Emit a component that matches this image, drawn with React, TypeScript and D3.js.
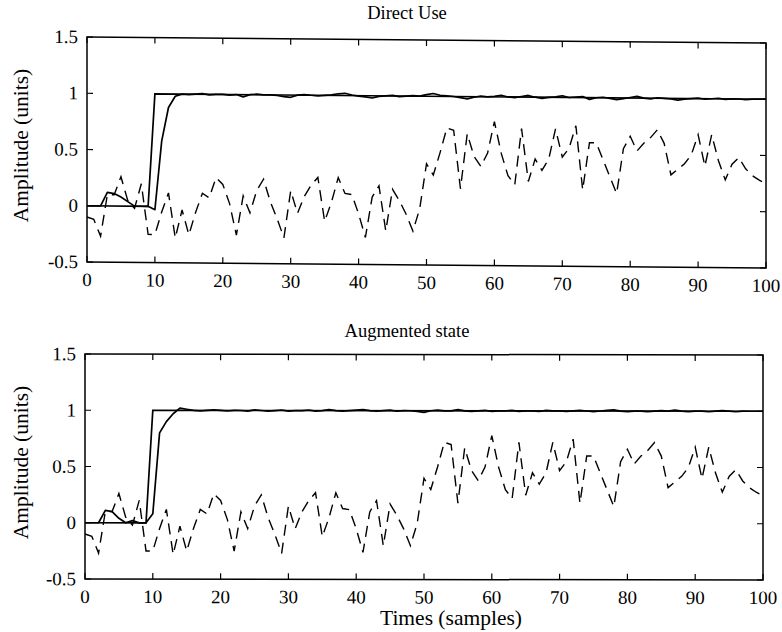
import React from "react";
import * as d3 from "d3";

// ---- data ----
const noise = [
  -0.1, -0.12, -0.27, 0.1, 0.1, 0.26, 0.05, -0.02, 0.2, -0.25,
  -0.25, -0.05, 0.12, -0.28, -0.03, -0.25, -0.05, 0.12, 0.08, 0.26,
  0.2, 0.03, -0.25, 0.1, -0.05, 0.15, 0.25, 0.05, -0.1, -0.27,
  0.15, -0.05, 0.1, 0.2, 0.27, -0.12, 0.05, 0.27, 0.13, 0.12,
  -0.05, -0.26, 0.1, 0.2, -0.2, 0.17, 0.07, -0.05, -0.2, 0.0,
  0.4, 0.3, 0.5, 0.72, 0.7, 0.18, 0.67, 0.47, 0.38, 0.5,
  0.78, 0.5, 0.3, 0.22, 0.72, 0.25, 0.45, 0.35, 0.45, 0.72,
  0.47, 0.55, 0.75, 0.18, 0.6, 0.6, 0.45, 0.3, 0.15, 0.55,
  0.66, 0.53, 0.6, 0.65, 0.72, 0.6, 0.32, 0.37, 0.42, 0.5,
  0.68, 0.4, 0.68, 0.45, 0.28, 0.42, 0.48, 0.38, 0.32, 0.28,
  0.25,
];

const refTimes = [0, 9, 10, 100];
const refValues = [0, 0, 1, 1];

const outputDirect = [
  0, 0, 0, 0.12, 0.11, 0.08, 0.04, 0.0, 0.0, 0.0,
  -0.03, 0.58, 0.88, 0.98, 1.0, 0.995, 1.0, 1.005, 0.995, 1.0,
  1.0, 0.995, 1.0, 0.98, 1.0, 1.005, 1.0, 1.0, 0.995, 0.985,
  0.98, 1.0, 1.005, 1.0, 0.995, 1.0, 1.005, 1.015, 1.02, 1.005,
  0.995, 0.99, 0.98, 0.995, 1.0, 1.005, 0.995, 1.0, 1.005, 1.0,
  1.015, 1.025, 1.01, 1.005, 1.0, 0.99, 0.98, 0.995, 1.005, 1.0,
  1.005, 1.015, 1.0, 0.995, 1.005, 1.015, 1.0, 0.99, 1.0, 1.005,
  1.015, 1.0, 1.005, 1.01, 0.985, 1.0, 1.005, 0.995, 0.985, 0.995,
  1.005, 1.015, 1.0, 0.995, 1.005, 1.0, 0.995, 0.985, 0.995, 1.0,
  1.005, 0.995, 1.0, 1.005, 0.995, 1.0, 1.0, 0.995, 1.0, 1.0,
  1.0,
];

const outputAugmented = [
  0, 0, 0, 0.11, 0.1, 0.04, 0.0, 0.02, 0.0, 0.0,
  0.08, 0.8, 0.9, 0.97, 1.02, 1.01, 1.0, 0.995, 1.0, 1.005,
  1.0, 0.995, 1.0, 1.0, 0.995, 1.005, 1.0, 0.995, 1.0, 1.005,
  0.995, 1.0, 1.0, 1.005, 0.995, 1.0, 1.01, 1.0, 0.995, 1.0,
  1.005, 1.01, 1.0, 0.995, 1.0, 1.005, 0.995, 1.0, 1.0, 0.995,
  0.985, 1.0, 1.005, 1.0, 1.0, 1.01, 1.0, 0.995, 1.0, 1.005,
  0.995, 1.0, 1.0, 1.005, 0.995, 1.0, 1.0, 0.995, 1.005, 1.0,
  1.0, 0.995, 1.0, 1.005, 1.0, 0.995, 1.0, 1.005, 1.01, 1.0,
  0.995, 1.0, 1.0, 0.995, 1.0, 1.005, 1.0, 1.01, 1.0, 0.995,
  1.0, 1.0, 0.995, 1.0, 1.005, 1.0, 0.995, 1.0, 1.0, 1.0,
  1.0,
];

const xTicks = [0, 10, 20, 30, 40, 50, 60, 70, 80, 90, 100];
const yTicks = [-0.5, 0, 0.5, 1, 1.5];
const yTickLabels = ["-0.5", "0", "0.5", "1", "1.5"];

const FONT = "'Liberation Serif', 'Times New Roman', serif";

type PanelProps = {
  title: string;
  output: number[];
  x0: number;
  x1: number;
  yTop: number;
  yBot: number;
  drop: number;
  titleY: number;
  showXLabel: boolean;
};

function Panel({ title, output, x0, x1, yTop, yBot, drop, titleY, showXLabel }: PanelProps) {
  const x = d3.scaleLinear().domain([0, 100]).range([x0, x1]);
  const y = d3.scaleLinear().domain([-0.5, 1.5]).range([yBot, yTop]);
  const k = drop / (x1 - x0);
  const line = d3
    .line<[number, number]>()
    .x((d) => x(d[0]))
    .y((d) => y(d[1]));
  const noisePts = noise.map((v, i) => [i, v] as [number, number]);
  const refPts = refTimes.map((t, i) => [t, refValues[i]] as [number, number]);
  const outPts = output.map((v, i) => [i, v] as [number, number]);
  const tl = 6;
  const midY = (yTop + yBot) / 2;
  return (
    <g>
      <text x={407} y={titleY} textAnchor="middle" fontSize={18.5} fontFamily={FONT}>
        {title}
      </text>
      <g transform={`matrix(1, ${k}, 0, 1, 0, ${-k * x0})`}>
        <path d={line(noisePts) || ""} fill="none" stroke="#000" strokeWidth={1.4} strokeDasharray="11,7" />
        <path d={line(refPts) || ""} fill="none" stroke="#000" strokeWidth={1.7} />
        <path d={line(outPts) || ""} fill="none" stroke="#000" strokeWidth={1.7} strokeLinejoin="round" />
        <rect x={x0} y={yTop} width={x1 - x0} height={yBot - yTop} fill="none" stroke="#000" strokeWidth={1.5} />
        {xTicks.map((t) => (
          <g key={"xt" + t}>
            <line x1={x(t)} x2={x(t)} y1={yBot} y2={yBot - tl} stroke="#000" strokeWidth={1.2} />
            <line x1={x(t)} x2={x(t)} y1={yTop} y2={yTop + tl} stroke="#000" strokeWidth={1.2} />
            <text x={x(t)} y={yBot + 24} textAnchor="middle" fontSize={19} fontFamily={FONT}>
              {String(t)}
            </text>
          </g>
        ))}
        {yTicks.map((v, i) => (
          <g key={"yt" + v}>
            <line x1={x0} x2={x0 + tl} y1={y(v)} y2={y(v)} stroke="#000" strokeWidth={1.2} />
            <line x1={x1} x2={x1 - tl} y1={y(v)} y2={y(v)} stroke="#000" strokeWidth={1.2} />
            <text x={x0 - 9} y={y(v)} dy="0.33em" textAnchor="end" fontSize={19} fontFamily={FONT}>
              {yTickLabels[i]}
            </text>
          </g>
        ))}
      </g>
      <text
        transform={`translate(28, ${midY - 4}) rotate(-90)`}
        textAnchor="middle"
        fontSize={21.5}
        fontFamily={FONT}
      >
        Amplitude (units)
      </text>
      {showXLabel && (
        <text x={451} y={yBot + 46} textAnchor="middle" fontSize={21.5} fontFamily={FONT}>
          Times (samples)
        </text>
      )}
    </g>
  );
}

export default function App() {
  return (
    <svg width={782} height={632} style={{ position: "absolute", left: 0, top: 0, background: "#fff" }}>
      <rect x={0} y={0} width={782} height={632} fill="#fff" />
      <Panel
        title="Direct Use"
        output={outputDirect}
        x0={87}
        x1={766}
        yTop={37}
        yBot={262}
        drop={6}
        titleY={19}
        showXLabel={false}
      />
      <Panel
        title="Augmented state"
        output={outputAugmented}
        x0={85}
        x1={763}
        yTop={354}
        yBot={579}
        drop={1}
        titleY={337}
        showXLabel={true}
      />
    </svg>
  );
}
